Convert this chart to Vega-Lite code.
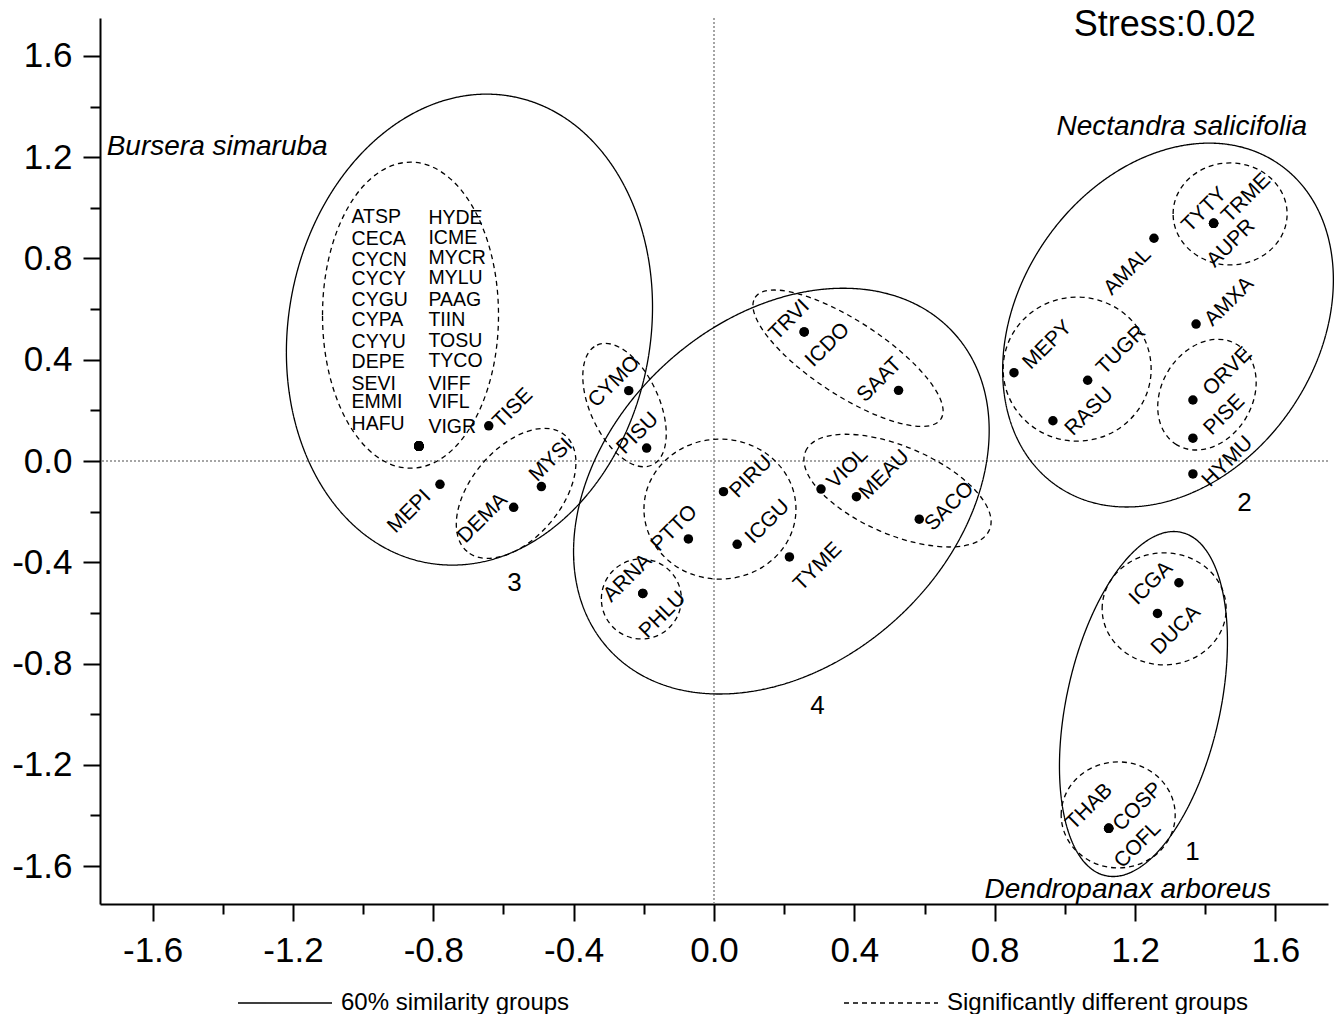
{
  "$schema": "https://vega.github.io/schema/vega-lite/v6.json",
  "autosize": {"type": "none"},
  "padding": {"left": 100, "top": 18, "right": 7, "bottom": 110},
  "width": 1228,
  "height": 886,
  "background": "white",
  "config": {"view": {"stroke": null}, "font": "Liberation Sans"},
  "resolve": {"axis": {"x": "independent", "y": "independent"}},
  "datasets": {
    "species": [
      {"sp": "ATSP", "x": -0.841, "y": 0.059, "lx": -1.033, "ly": 0.964, "kind": "list"},
      {"sp": "CECA", "x": -0.841, "y": 0.059, "lx": -1.033, "ly": 0.877, "kind": "list"},
      {"sp": "CYCN", "x": -0.841, "y": 0.059, "lx": -1.033, "ly": 0.794, "kind": "list"},
      {"sp": "CYCY", "x": -0.841, "y": 0.059, "lx": -1.033, "ly": 0.719, "kind": "list"},
      {"sp": "CYGU", "x": -0.841, "y": 0.059, "lx": -1.033, "ly": 0.636, "kind": "list"},
      {"sp": "CYPA", "x": -0.841, "y": 0.059, "lx": -1.033, "ly": 0.557, "kind": "list"},
      {"sp": "CYYU", "x": -0.841, "y": 0.059, "lx": -1.033, "ly": 0.470, "kind": "list"},
      {"sp": "DEPE", "x": -0.841, "y": 0.059, "lx": -1.033, "ly": 0.391, "kind": "list"},
      {"sp": "SEVI", "x": -0.841, "y": 0.059, "lx": -1.033, "ly": 0.304, "kind": "list"},
      {"sp": "EMMI", "x": -0.841, "y": 0.059, "lx": -1.033, "ly": 0.233, "kind": "list"},
      {"sp": "HAFU", "x": -0.841, "y": 0.059, "lx": -1.033, "ly": 0.146, "kind": "list"},
      {"sp": "HYDE", "x": -0.841, "y": 0.059, "lx": -0.814, "ly": 0.960, "kind": "list"},
      {"sp": "ICME", "x": -0.841, "y": 0.059, "lx": -0.814, "ly": 0.881, "kind": "list"},
      {"sp": "MYCR", "x": -0.841, "y": 0.059, "lx": -0.814, "ly": 0.802, "kind": "list"},
      {"sp": "MYLU", "x": -0.841, "y": 0.059, "lx": -0.814, "ly": 0.723, "kind": "list"},
      {"sp": "PAAG", "x": -0.841, "y": 0.059, "lx": -0.814, "ly": 0.636, "kind": "list"},
      {"sp": "TIIN", "x": -0.841, "y": 0.059, "lx": -0.814, "ly": 0.557, "kind": "list"},
      {"sp": "TOSU", "x": -0.841, "y": 0.059, "lx": -0.814, "ly": 0.474, "kind": "list"},
      {"sp": "TYCO", "x": -0.841, "y": 0.059, "lx": -0.814, "ly": 0.395, "kind": "list"},
      {"sp": "VIFF", "x": -0.841, "y": 0.059, "lx": -0.814, "ly": 0.304, "kind": "list"},
      {"sp": "VIFL", "x": -0.841, "y": 0.059, "lx": -0.814, "ly": 0.233, "kind": "list"},
      {"sp": "VIGR", "x": -0.841, "y": 0.059, "lx": -0.814, "ly": 0.134, "kind": "list"},
      {"sp": "TISE", "x": -0.642, "y": 0.139, "lx": -0.573, "ly": 0.208, "kind": "tilt"},
      {"sp": "MYSI", "x": -0.492, "y": -0.101, "lx": -0.464, "ly": 0.004, "kind": "tilt"},
      {"sp": "MEPI", "x": -0.781, "y": -0.092, "lx": -0.868, "ly": -0.200, "kind": "tilt"},
      {"sp": "DEMA", "x": -0.571, "y": -0.183, "lx": -0.659, "ly": -0.226, "kind": "tilt"},
      {"sp": "CYMO", "x": -0.243, "y": 0.278, "lx": -0.284, "ly": 0.313, "kind": "tilt"},
      {"sp": "PISU", "x": -0.192, "y": 0.051, "lx": -0.217, "ly": 0.109, "kind": "tilt"},
      {"sp": "ARNA", "x": -0.203, "y": -0.523, "lx": -0.246, "ly": -0.463, "kind": "tilt"},
      {"sp": "PHLU", "x": -0.203, "y": -0.523, "lx": -0.146, "ly": -0.608, "kind": "tilt"},
      {"sp": "TRVI", "x": 0.257, "y": 0.510, "lx": 0.215, "ly": 0.557, "kind": "tilt"},
      {"sp": "ICDO", "x": 0.257, "y": 0.510, "lx": 0.324, "ly": 0.458, "kind": "tilt"},
      {"sp": "SAAT", "x": 0.526, "y": 0.279, "lx": 0.472, "ly": 0.320, "kind": "tilt"},
      {"sp": "PIRU", "x": 0.027, "y": -0.121, "lx": 0.106, "ly": -0.062, "kind": "tilt"},
      {"sp": "PTTO", "x": -0.073, "y": -0.308, "lx": -0.113, "ly": -0.266, "kind": "tilt"},
      {"sp": "ICGU", "x": 0.066, "y": -0.329, "lx": 0.153, "ly": -0.240, "kind": "tilt"},
      {"sp": "TYME", "x": 0.215, "y": -0.379, "lx": 0.296, "ly": -0.418, "kind": "tilt"},
      {"sp": "VIOL", "x": 0.305, "y": -0.111, "lx": 0.381, "ly": -0.029, "kind": "tilt"},
      {"sp": "MEAU", "x": 0.406, "y": -0.141, "lx": 0.486, "ly": -0.055, "kind": "tilt"},
      {"sp": "SACO", "x": 0.585, "y": -0.230, "lx": 0.671, "ly": -0.180, "kind": "tilt"},
      {"sp": "TYTY", "x": 1.424, "y": 0.939, "lx": 1.398, "ly": 0.992, "kind": "tilt"},
      {"sp": "TRME", "x": 1.424, "y": 0.939, "lx": 1.517, "ly": 1.038, "kind": "tilt"},
      {"sp": "AUPR", "x": 1.424, "y": 0.939, "lx": 1.474, "ly": 0.860, "kind": "tilt"},
      {"sp": "AMAL", "x": 1.254, "y": 0.880, "lx": 1.179, "ly": 0.748, "kind": "tilt"},
      {"sp": "AMXA", "x": 1.374, "y": 0.541, "lx": 1.469, "ly": 0.629, "kind": "tilt"},
      {"sp": "MEPY", "x": 0.855, "y": 0.349, "lx": 0.951, "ly": 0.458, "kind": "tilt"},
      {"sp": "TUGR", "x": 1.065, "y": 0.319, "lx": 1.161, "ly": 0.438, "kind": "tilt"},
      {"sp": "RASU", "x": 0.966, "y": 0.159, "lx": 1.070, "ly": 0.195, "kind": "tilt"},
      {"sp": "ORVE", "x": 1.365, "y": 0.241, "lx": 1.464, "ly": 0.353, "kind": "tilt"},
      {"sp": "PISE", "x": 1.365, "y": 0.090, "lx": 1.455, "ly": 0.182, "kind": "tilt"},
      {"sp": "HYMU", "x": 1.365, "y": -0.051, "lx": 1.464, "ly": -0.003, "kind": "tilt"},
      {"sp": "ICGA", "x": 1.325, "y": -0.481, "lx": 1.246, "ly": -0.483, "kind": "tilt"},
      {"sp": "DUCA", "x": 1.264, "y": -0.602, "lx": 1.317, "ly": -0.668, "kind": "tilt"},
      {"sp": "THAB", "x": 1.125, "y": -1.451, "lx": 1.070, "ly": -1.366, "kind": "tilt"},
      {"sp": "COSP", "x": 1.125, "y": -1.451, "lx": 1.208, "ly": -1.366, "kind": "tilt"},
      {"sp": "COFL", "x": 1.125, "y": -1.451, "lx": 1.208, "ly": -1.517, "kind": "tilt"}
    ]
  },
  "layer": [
    {
      "data": {"values": [{"x0": 0}]},
      "mark": {"type": "rule", "strokeDash": [2, 2], "color": "#888888", "strokeWidth": 1.5},
      "encoding": {"x": {"field": "x0", "type": "quantitative", "scale": {"domain": [-1.75, 1.75], "nice": false, "zero": false},
        "axis": {"orient": "bottom", "title": null, "grid": false, "domain": false, "labels": false, "values": [-1.4, -1.0, -0.6, -0.2, 0.2, 0.6, 1.0, 1.4], "tickSize": 10, "tickWidth": 2, "tickColor": "black"}}}
    },
    {
      "data": {"values": [{"y0": 0}]},
      "mark": {"type": "rule", "strokeDash": [2, 2], "color": "#888888", "strokeWidth": 1.5},
      "encoding": {"y": {"field": "y0", "type": "quantitative", "scale": {"domain": [-1.75, 1.75], "nice": false, "zero": false},
        "axis": {"orient": "left", "title": null, "grid": false, "domain": false, "labels": false, "values": [-1.4, -1.0, -0.6, -0.2, 0.2, 0.6, 1.0, 1.4], "tickSize": 10, "tickWidth": 2, "tickColor": "black"}}}
    },
    {
      "data": {"values": [{"grp": "3", "type": "60% similarity groups", "x": -0.697, "y": 0.519}]},
      "mark": {"type": "point", "shape": "M -181 0 C -181 -130.9 -100 -237 0 -237 C 100 -237 181 -130.9 181 0 C 181 130.9 100 237 0 237 C -100 237 -181 130.9 -181 0 Z", "size": 4, "angle": 10.2, "stroke": "black", "strokeWidth": 1.3, "opacity": 1, "filled": false},
      "encoding": {
        "x": {"field": "x", "type": "quantitative", "scale": {"domain": [-1.75, 1.75], "nice": false, "zero": false}, "axis": null},
        "y": {"field": "y", "type": "quantitative", "scale": {"domain": [-1.75, 1.75], "nice": false, "zero": false}, "axis": null},
        "strokeDash": {"field": "type", "type": "nominal", "scale": {"domain": ["60% similarity groups", "Significantly different groups"], "range": [[1, 0], [5, 4]]},
          "legend": {"orient": "none", "legendX": 137, "legendY": 937, "direction": "horizontal", "title": null, "symbolType": "stroke", "symbolSize": 8836, "symbolStrokeWidth": 1.5, "symbolStrokeColor": "black", "labelFontSize": 24, "labelFont": "Liberation Sans", "labelColor": "black", "labelLimit": 500, "labelOffset": 8, "columnPadding": 271, "padding": 0,
            "encode": {"symbols": {"update": {"strokeDash": {"signal": "datum.value == 'Significantly different groups' ? [11, 7] : [1, 0]"}}}}}}
      }
    },
    {
      "data": {"values": [{"grp": "4", "type": "60% similarity groups", "x": 0.192, "y": -0.119}]},
      "mark": {"type": "point", "shape": "M -234 0 C -234 -95 -129.2 -172 0 -172 C 129.2 -172 234 -95 234 0 C 234 95 129.2 172 0 172 C -129.2 172 -234 95 -234 0 Z", "size": 4, "angle": -42.7, "stroke": "black", "strokeWidth": 1.3, "opacity": 1, "filled": false},
      "encoding": {
        "x": {"field": "x", "type": "quantitative", "scale": {"domain": [-1.75, 1.75], "nice": false, "zero": false}, "axis": null},
        "y": {"field": "y", "type": "quantitative", "scale": {"domain": [-1.75, 1.75], "nice": false, "zero": false}, "axis": null},
        "strokeDash": {"field": "type", "type": "nominal", "scale": {"domain": ["60% similarity groups", "Significantly different groups"], "range": [[1, 0], [5, 4]]}}
      }
    },
    {
      "data": {"values": [{"grp": "2", "type": "60% similarity groups", "x": 1.294, "y": 0.537}]},
      "mark": {"type": "point", "shape": "M -195.5 0 C -195.5 -82.3 -108 -149 0 -149 C 108 -149 195.5 -82.3 195.5 0 C 195.5 82.3 108 149 0 149 C -108 149 -195.5 82.3 -195.5 0 Z", "size": 4, "angle": -55.5, "stroke": "black", "strokeWidth": 1.3, "opacity": 1, "filled": false},
      "encoding": {
        "x": {"field": "x", "type": "quantitative", "scale": {"domain": [-1.75, 1.75], "nice": false, "zero": false}, "axis": null},
        "y": {"field": "y", "type": "quantitative", "scale": {"domain": [-1.75, 1.75], "nice": false, "zero": false}, "axis": null},
        "strokeDash": {"field": "type", "type": "nominal", "scale": {"domain": ["60% similarity groups", "Significantly different groups"], "range": [[1, 0], [5, 4]]}}
      }
    },
    {
      "data": {"values": [{"grp": "1", "type": "60% similarity groups", "x": 1.224, "y": -0.960}]},
      "mark": {"type": "point", "shape": "M -76.8 0 C -76.8 -97.1 -42.4 -175.8 0 -175.8 C 42.4 -175.8 76.8 -97.1 76.8 0 C 76.8 97.1 42.4 175.8 0 175.8 C -42.4 175.8 -76.8 97.1 -76.8 0 Z", "size": 4, "angle": 12.4, "stroke": "black", "strokeWidth": 1.3, "opacity": 1, "filled": false},
      "encoding": {
        "x": {"field": "x", "type": "quantitative", "scale": {"domain": [-1.75, 1.75], "nice": false, "zero": false}, "axis": null},
        "y": {"field": "y", "type": "quantitative", "scale": {"domain": [-1.75, 1.75], "nice": false, "zero": false}, "axis": null},
        "strokeDash": {"field": "type", "type": "nominal", "scale": {"domain": ["60% similarity groups", "Significantly different groups"], "range": [[1, 0], [5, 4]]}}
      }
    },
    {
      "data": {"values": [{"grp": "3a", "type": "Significantly different groups", "x": -0.865, "y": 0.576}]},
      "mark": {"type": "point", "shape": "M -88 0 C -88 -84.5 -48.6 -153 0 -153 C 48.6 -153 88 -84.5 88 0 C 88 84.5 48.6 153 0 153 C -48.6 153 -88 84.5 -88 0 Z", "size": 4, "angle": 0, "stroke": "black", "strokeWidth": 1.3, "opacity": 1, "filled": false},
      "encoding": {
        "x": {"field": "x", "type": "quantitative", "scale": {"domain": [-1.75, 1.75], "nice": false, "zero": false}, "axis": null},
        "y": {"field": "y", "type": "quantitative", "scale": {"domain": [-1.75, 1.75], "nice": false, "zero": false}, "axis": null},
        "strokeDash": {"field": "type", "type": "nominal", "scale": {"domain": ["60% similarity groups", "Significantly different groups"], "range": [[1, 0], [5, 4]]}}
      }
    },
    {
      "data": {"values": [{"grp": "3b", "type": "Significantly different groups", "x": -0.564, "y": -0.128}]},
      "mark": {"type": "point", "shape": "M -76 0 C -76 -24.9 -42 -45 0 -45 C 42 -45 76 -24.9 76 0 C 76 24.9 42 45 0 45 C -42 45 -76 24.9 -76 0 Z", "size": 4, "angle": -50, "stroke": "black", "strokeWidth": 1.3, "opacity": 1, "filled": false},
      "encoding": {
        "x": {"field": "x", "type": "quantitative", "scale": {"domain": [-1.75, 1.75], "nice": false, "zero": false}, "axis": null},
        "y": {"field": "y", "type": "quantitative", "scale": {"domain": [-1.75, 1.75], "nice": false, "zero": false}, "axis": null},
        "strokeDash": {"field": "type", "type": "nominal", "scale": {"domain": ["60% similarity groups", "Significantly different groups"], "range": [[1, 0], [5, 4]]}}
      }
    },
    {
      "data": {"values": [{"grp": "4a", "type": "Significantly different groups", "x": -0.255, "y": 0.221}]},
      "mark": {"type": "point", "shape": "M -66 0 C -66 -19.1 -36.5 -34.5 0 -34.5 C 36.5 -34.5 66 -19.1 66 0 C 66 19.1 36.5 34.5 0 34.5 C -36.5 34.5 -66 19.1 -66 0 Z", "size": 4, "angle": 65.4, "stroke": "black", "strokeWidth": 1.3, "opacity": 1, "filled": false},
      "encoding": {
        "x": {"field": "x", "type": "quantitative", "scale": {"domain": [-1.75, 1.75], "nice": false, "zero": false}, "axis": null},
        "y": {"field": "y", "type": "quantitative", "scale": {"domain": [-1.75, 1.75], "nice": false, "zero": false}, "axis": null},
        "strokeDash": {"field": "type", "type": "nominal", "scale": {"domain": ["60% similarity groups", "Significantly different groups"], "range": [[1, 0], [5, 4]]}}
      }
    },
    {
      "data": {"values": [{"grp": "4b", "type": "Significantly different groups", "x": 0.382, "y": 0.406}]},
      "mark": {"type": "point", "shape": "M -111 0 C -111 -20.4 -61.3 -37 0 -37 C 61.3 -37 111 -20.4 111 0 C 111 20.4 61.3 37 0 37 C -61.3 37 -111 20.4 -111 0 Z", "size": 4, "angle": 33.2, "stroke": "black", "strokeWidth": 1.3, "opacity": 1, "filled": false},
      "encoding": {
        "x": {"field": "x", "type": "quantitative", "scale": {"domain": [-1.75, 1.75], "nice": false, "zero": false}, "axis": null},
        "y": {"field": "y", "type": "quantitative", "scale": {"domain": [-1.75, 1.75], "nice": false, "zero": false}, "axis": null},
        "strokeDash": {"field": "type", "type": "nominal", "scale": {"domain": ["60% similarity groups", "Significantly different groups"], "range": [[1, 0], [5, 4]]}}
      }
    },
    {
      "data": {"values": [{"grp": "4c", "type": "Significantly different groups", "x": 0.523, "y": -0.117}]},
      "mark": {"type": "point", "shape": "M -100 0 C -100 -24.3 -55.2 -44 0 -44 C 55.2 -44 100 -24.3 100 0 C 100 24.3 55.2 44 0 44 C -55.2 44 -100 24.3 -100 0 Z", "size": 4, "angle": 23.1, "stroke": "black", "strokeWidth": 1.3, "opacity": 1, "filled": false},
      "encoding": {
        "x": {"field": "x", "type": "quantitative", "scale": {"domain": [-1.75, 1.75], "nice": false, "zero": false}, "axis": null},
        "y": {"field": "y", "type": "quantitative", "scale": {"domain": [-1.75, 1.75], "nice": false, "zero": false}, "axis": null},
        "strokeDash": {"field": "type", "type": "nominal", "scale": {"domain": ["60% similarity groups", "Significantly different groups"], "range": [[1, 0], [5, 4]]}}
      }
    },
    {
      "data": {"values": [{"grp": "4d", "type": "Significantly different groups", "x": 0.017, "y": -0.190}]},
      "mark": {"type": "point", "shape": "M -76 0 C -76 -38.7 -42 -70 0 -70 C 42 -70 76 -38.7 76 0 C 76 38.7 42 70 0 70 C -42 70 -76 38.7 -76 0 Z", "size": 4, "angle": 0, "stroke": "black", "strokeWidth": 1.3, "opacity": 1, "filled": false},
      "encoding": {
        "x": {"field": "x", "type": "quantitative", "scale": {"domain": [-1.75, 1.75], "nice": false, "zero": false}, "axis": null},
        "y": {"field": "y", "type": "quantitative", "scale": {"domain": [-1.75, 1.75], "nice": false, "zero": false}, "axis": null},
        "strokeDash": {"field": "type", "type": "nominal", "scale": {"domain": ["60% similarity groups", "Significantly different groups"], "range": [[1, 0], [5, 4]]}}
      }
    },
    {
      "data": {"values": [{"grp": "4e", "type": "Significantly different groups", "x": -0.207, "y": -0.545}]},
      "mark": {"type": "point", "shape": "M -40 0 C -40 -22.1 -22.1 -40 0 -40 C 22.1 -40 40 -22.1 40 0 C 40 22.1 22.1 40 0 40 C -22.1 40 -40 22.1 -40 0 Z", "size": 4, "angle": 0, "stroke": "black", "strokeWidth": 1.3, "opacity": 1, "filled": false},
      "encoding": {
        "x": {"field": "x", "type": "quantitative", "scale": {"domain": [-1.75, 1.75], "nice": false, "zero": false}, "axis": null},
        "y": {"field": "y", "type": "quantitative", "scale": {"domain": [-1.75, 1.75], "nice": false, "zero": false}, "axis": null},
        "strokeDash": {"field": "type", "type": "nominal", "scale": {"domain": ["60% similarity groups", "Significantly different groups"], "range": [[1, 0], [5, 4]]}}
      }
    },
    {
      "data": {"values": [{"grp": "2a", "type": "Significantly different groups", "x": 1.471, "y": 0.976}]},
      "mark": {"type": "point", "shape": "M -57 0 C -57 -28.2 -31.5 -51 0 -51 C 31.5 -51 57 -28.2 57 0 C 57 28.2 31.5 51 0 51 C -31.5 51 -57 28.2 -57 0 Z", "size": 4, "angle": 0, "stroke": "black", "strokeWidth": 1.3, "opacity": 1, "filled": false},
      "encoding": {
        "x": {"field": "x", "type": "quantitative", "scale": {"domain": [-1.75, 1.75], "nice": false, "zero": false}, "axis": null},
        "y": {"field": "y", "type": "quantitative", "scale": {"domain": [-1.75, 1.75], "nice": false, "zero": false}, "axis": null},
        "strokeDash": {"field": "type", "type": "nominal", "scale": {"domain": ["60% similarity groups", "Significantly different groups"], "range": [[1, 0], [5, 4]]}}
      }
    },
    {
      "data": {"values": [{"grp": "2b", "type": "Significantly different groups", "x": 1.035, "y": 0.363}]},
      "mark": {"type": "point", "shape": "M -74 0 C -74 -39.8 -40.9 -72 0 -72 C 40.9 -72 74 -39.8 74 0 C 74 39.8 40.9 72 0 72 C -40.9 72 -74 39.8 -74 0 Z", "size": 4, "angle": 0, "stroke": "black", "strokeWidth": 1.3, "opacity": 1, "filled": false},
      "encoding": {
        "x": {"field": "x", "type": "quantitative", "scale": {"domain": [-1.75, 1.75], "nice": false, "zero": false}, "axis": null},
        "y": {"field": "y", "type": "quantitative", "scale": {"domain": [-1.75, 1.75], "nice": false, "zero": false}, "axis": null},
        "strokeDash": {"field": "type", "type": "nominal", "scale": {"domain": ["60% similarity groups", "Significantly different groups"], "range": [[1, 0], [5, 4]]}}
      }
    },
    {
      "data": {"values": [{"grp": "2c", "type": "Significantly different groups", "x": 1.405, "y": 0.262}]},
      "mark": {"type": "point", "shape": "M -58.5 0 C -58.5 -25.1 -32.3 -45.4 0 -45.4 C 32.3 -45.4 58.5 -25.1 58.5 0 C 58.5 25.1 32.3 45.4 0 45.4 C -32.3 45.4 -58.5 25.1 -58.5 0 Z", "size": 4, "angle": -59, "stroke": "black", "strokeWidth": 1.3, "opacity": 1, "filled": false},
      "encoding": {
        "x": {"field": "x", "type": "quantitative", "scale": {"domain": [-1.75, 1.75], "nice": false, "zero": false}, "axis": null},
        "y": {"field": "y", "type": "quantitative", "scale": {"domain": [-1.75, 1.75], "nice": false, "zero": false}, "axis": null},
        "strokeDash": {"field": "type", "type": "nominal", "scale": {"domain": ["60% similarity groups", "Significantly different groups"], "range": [[1, 0], [5, 4]]}}
      }
    },
    {
      "data": {"values": [{"grp": "1a", "type": "Significantly different groups", "x": 1.283, "y": -0.584}]},
      "mark": {"type": "point", "shape": "M -62 0 C -62 -30.9 -34.2 -56 0 -56 C 34.2 -56 62 -30.9 62 0 C 62 30.9 34.2 56 0 56 C -34.2 56 -62 30.9 -62 0 Z", "size": 4, "angle": 0, "stroke": "black", "strokeWidth": 1.3, "opacity": 1, "filled": false},
      "encoding": {
        "x": {"field": "x", "type": "quantitative", "scale": {"domain": [-1.75, 1.75], "nice": false, "zero": false}, "axis": null},
        "y": {"field": "y", "type": "quantitative", "scale": {"domain": [-1.75, 1.75], "nice": false, "zero": false}, "axis": null},
        "strokeDash": {"field": "type", "type": "nominal", "scale": {"domain": ["60% similarity groups", "Significantly different groups"], "range": [[1, 0], [5, 4]]}}
      }
    },
    {
      "data": {"values": [{"grp": "1b", "type": "Significantly different groups", "x": 1.152, "y": -1.398}]},
      "mark": {"type": "point", "shape": "M -57 0 C -57 -29.3 -31.5 -53 0 -53 C 31.5 -53 57 -29.3 57 0 C 57 29.3 31.5 53 0 53 C -31.5 53 -57 29.3 -57 0 Z", "size": 4, "angle": 0, "stroke": "black", "strokeWidth": 1.3, "opacity": 1, "filled": false},
      "encoding": {
        "x": {"field": "x", "type": "quantitative", "scale": {"domain": [-1.75, 1.75], "nice": false, "zero": false}, "axis": null},
        "y": {"field": "y", "type": "quantitative", "scale": {"domain": [-1.75, 1.75], "nice": false, "zero": false}, "axis": null},
        "strokeDash": {"field": "type", "type": "nominal", "scale": {"domain": ["60% similarity groups", "Significantly different groups"], "range": [[1, 0], [5, 4]]}}
      }
    },
    {
      "data": {"name": "species"},
      "mark": {"type": "point", "shape": "circle", "filled": true, "size": 90, "color": "black", "opacity": 1},
      "encoding": {
        "x": {"field": "x", "type": "quantitative", "scale": {"domain": [-1.75, 1.75], "nice": false, "zero": false},
          "axis": {"orient": "bottom", "title": null, "grid": false, "values": [-1.6, -1.2, -0.8, -0.4, 0, 0.4, 0.8, 1.2, 1.6],
            "labelExpr": "(datum.value < 0 ? '-' : '') + format(abs(datum.value), '.1f')",
            "tickSize": 17, "tickWidth": 2, "tickColor": "black", "domainWidth": 2, "domainColor": "black",
            "labelFontSize": 35, "labelFont": "Liberation Sans", "labelColor": "black", "labelPadding": 12, "labelOverlap": false, "labelFlush": false}},
        "y": {"field": "y", "type": "quantitative", "scale": {"domain": [-1.75, 1.75], "nice": false, "zero": false},
          "axis": {"orient": "left", "title": null, "grid": false, "values": [-1.6, -1.2, -0.8, -0.4, 0, 0.4, 0.8, 1.2, 1.6],
            "labelExpr": "(datum.value < 0 ? '-' : '') + format(abs(datum.value), '.1f')",
            "tickSize": 17, "tickWidth": 2, "tickColor": "black", "domainWidth": 2, "domainColor": "black",
            "labelFontSize": 35, "labelFont": "Liberation Sans", "labelColor": "black", "labelPadding": 11, "labelOverlap": false, "labelFlush": false}}
      }
    },
    {
      "data": {"name": "species"},
      "transform": [{"filter": "datum.kind == 'tilt'"}],
      "mark": {"type": "text", "angle": -45, "align": "center", "baseline": "middle", "font": "Liberation Sans", "fontSize": 21, "color": "black"},
      "encoding": {
        "x": {"field": "lx", "type": "quantitative", "scale": {"domain": [-1.75, 1.75], "nice": false, "zero": false}, "axis": null},
        "y": {"field": "ly", "type": "quantitative", "scale": {"domain": [-1.75, 1.75], "nice": false, "zero": false}, "axis": null},
        "text": {"field": "sp"}
      }
    },
    {
      "data": {"name": "species"},
      "transform": [{"filter": "datum.kind == 'list'"}],
      "mark": {"type": "text", "align": "left", "baseline": "middle", "font": "Liberation Sans", "fontSize": 19.5, "color": "black"},
      "encoding": {
        "x": {"field": "lx", "type": "quantitative", "scale": {"domain": [-1.75, 1.75], "nice": false, "zero": false}, "axis": null},
        "y": {"field": "ly", "type": "quantitative", "scale": {"domain": [-1.75, 1.75], "nice": false, "zero": false}, "axis": null},
        "text": {"field": "sp"}
      }
    },
    {
      "data": {"values": [
        {"t": "Bursera simaruba", "x": -1.731, "y": 1.240},
        {"t": "Nectandra salicifolia", "x": 0.976, "y": 1.319},
        {"t": "Dendropanax arboreus", "x": 0.771, "y": -1.695}
      ]},
      "mark": {"type": "text", "align": "left", "baseline": "middle", "font": "Liberation Sans", "fontSize": 28, "fontStyle": "italic", "color": "black"},
      "encoding": {
        "x": {"field": "x", "type": "quantitative", "scale": {"domain": [-1.75, 1.75], "nice": false, "zero": false}, "axis": null},
        "y": {"field": "y", "type": "quantitative", "scale": {"domain": [-1.75, 1.75], "nice": false, "zero": false}, "axis": null},
        "text": {"field": "t"}
      }
    },
    {
      "data": {"values": [{"t": "Stress:0.02", "x": 1.285, "y": 1.722}]},
      "mark": {"type": "text", "align": "center", "baseline": "middle", "font": "Liberation Sans", "fontSize": 36, "color": "black"},
      "encoding": {
        "x": {"field": "x", "type": "quantitative", "scale": {"domain": [-1.75, 1.75], "nice": false, "zero": false}, "axis": null},
        "y": {"field": "y", "type": "quantitative", "scale": {"domain": [-1.75, 1.75], "nice": false, "zero": false}, "axis": null},
        "text": {"field": "t"}
      }
    },
    {
      "data": {"values": [
        {"t": "3", "x": -0.569, "y": -0.482},
        {"t": "4", "x": 0.295, "y": -0.968},
        {"t": "2", "x": 1.512, "y": -0.166},
        {"t": "1", "x": 1.364, "y": -1.545}
      ]},
      "mark": {"type": "text", "align": "center", "baseline": "middle", "font": "Liberation Sans", "fontSize": 26, "color": "black"},
      "encoding": {
        "x": {"field": "x", "type": "quantitative", "scale": {"domain": [-1.75, 1.75], "nice": false, "zero": false}, "axis": null},
        "y": {"field": "y", "type": "quantitative", "scale": {"domain": [-1.75, 1.75], "nice": false, "zero": false}, "axis": null},
        "text": {"field": "t"}
      }
    }
  ]
}
